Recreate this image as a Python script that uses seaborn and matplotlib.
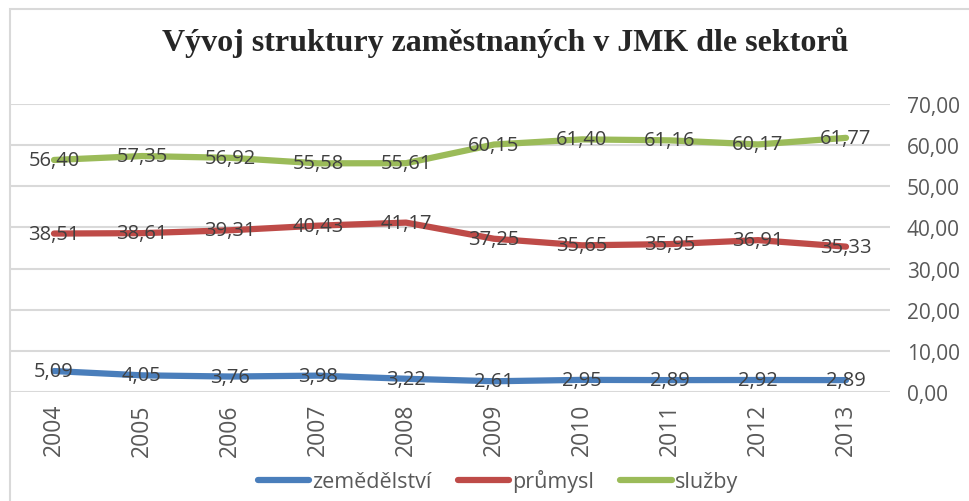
import pandas as pd
import numpy as np
import matplotlib.pyplot as plt
import seaborn as sns
from matplotlib.patches import Rectangle

years = ["2004", "2005", "2006", "2007", "2008", "2009", "2010", "2011", "2012", "2013"]
zemedelstvi = [5.09, 4.05, 3.76, 3.98, 3.22, 2.61, 2.95, 2.89, 2.92, 2.89]
prumysl = [38.51, 38.61, 39.31, 40.43, 41.17, 37.25, 35.65, 35.95, 36.91, 35.33]
sluzby = [56.40, 57.35, 56.92, 55.58, 55.61, 60.15, 61.40, 61.16, 60.17, 61.77]
series = ["zemědělství", "průmysl", "služby"]
colors = ["#4A7EBB", "#BE4B48", "#9BBB59"]

# long format for seaborn
df = pd.DataFrame({
    "rok": years * 3,
    "x": list(range(len(years))) * 3,
    "hodnota": zemedelstvi + prumysl + sluzby,
    "sektor": [s for s in series for _ in years],
})

sns.set_style("white")
plt.rcParams['font.family'] = ['Open Sans', 'DejaVu Sans']

fig = plt.figure(figsize=(9.7, 5.02), dpi=100)
ax = fig.add_axes([10/970, 109/502, 880/970, 288/502])

sns.lineplot(data=df, x="x", y="hodnota", hue="sektor", palette=colors,
             linewidth=4.5, ax=ax, legend=False, solid_capstyle="round")

# data labels centered on points
for s, vals in zip(series, [zemedelstvi, prumysl, sluzby]):
    for i, v in enumerate(vals):
        ax.text(i, v, f"{v:.2f}".replace(".", ","), ha="center", va="center",
                fontsize=14.5, color="#404040")

ax.set_xlim(-0.5, len(years) - 0.5)
ax.set_ylim(0, 70)
ax.set_yticks(np.arange(0, 71, 10))
ax.set_yticklabels([f"{t:.2f}".replace(".", ",") for t in np.arange(0, 71, 10)],
                   fontsize=15, color="#595959")
ax.yaxis.tick_right()
ax.set_xticks(range(len(years)))
ax.set_xticklabels(years, rotation=90, fontsize=16.5, color="#595959")
ax.tick_params(axis="y", length=0, pad=12)
ax.tick_params(axis="x", length=0, pad=8)
ax.set_xlabel("")
ax.set_ylabel("")
ax.grid(axis="y", color="#D9D9D9", linewidth=1.5)
ax.set_axisbelow(True)
for sp in ax.spines.values():
    sp.set_visible(False)

# chart border
fig.patches.append(Rectangle((10/970, -0.1), 1.2, 1.08, transform=fig.transFigure,
                             fill=False, edgecolor="#D9D9D9", linewidth=1.5))

fig.text(505/970, 1 - 43/502, "Vývoj struktury zaměstnaných v JMK dle sektorů",
         ha="center", va="center", fontsize=23, fontweight="bold",
         family=["Liberation Serif", "DejaVu Serif"])

handles = [plt.Line2D([0], [0], color=c, linewidth=4.5) for c in colors]
fig.legend(handles, series, loc="center", bbox_to_anchor=(498/970, 1 - 482/502),
           ncol=3, frameon=False, fontsize=15.5, handlelength=2.4,
           handletextpad=0.15, columnspacing=1.2, labelcolor="#595959")

fig.savefig("out.png", dpi=100)
